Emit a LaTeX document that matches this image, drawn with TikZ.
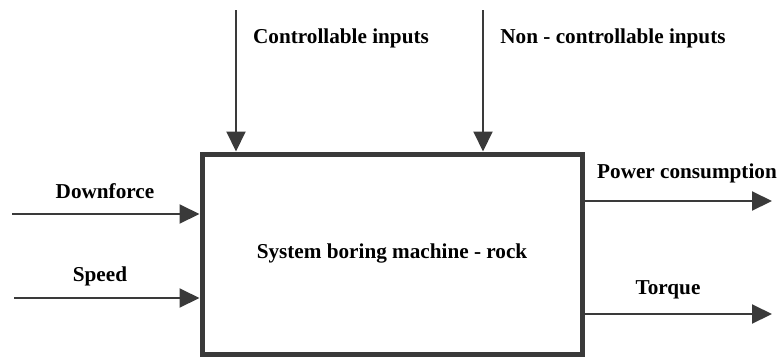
\documentclass[tikz,border=0pt]{standalone}
\usepackage{fontspec}
\setmainfont{Liberation Serif}
\usepackage{tikz}
\usetikzlibrary{arrows.meta, positioning}
\tikzset{>={Triangle[length=10pt,width=9.5pt]}}
\usepackage{xcolor}
\definecolor{mygray}{HTML}{3A3A3A}
\tikzset{flow/.style={->, line width=1pt, mygray},
  lbl/.style={font=\bfseries\fontsize{10.6}{12.7}\selectfont, inner sep=0pt}}

\begin{document}
\begin{tikzpicture}[x=0.5pt, y=-0.5pt]
  \useasboundingbox (0,0) rectangle (780,360);
  \node [draw=mygray, line width=2.5pt, minimum width=190pt, minimum height=100pt, inner sep=0pt, font=\bfseries\fontsize{10.6}{12.7}\selectfont] (sys) at (392,254) {\raisebox{3pt}{System boring machine - rock}};
  \coordinate (ci) at (236,10);
  \coordinate (nci) at (483,10);
  \coordinate (df) at (12,214);
  \coordinate (sp) at (14,298);
  \coordinate (pc) at (772,201);
  \coordinate (tq) at (772,314);
  \draw [flow] (ci) -- (ci |- sys.north);
  \draw [flow] (nci) -- (nci |- sys.north);
  \draw [flow] (df) -- (df -| sys.west);
  \draw [flow] (sp) -- (sp -| sys.west);
  \draw [flow] (sys.east |- pc) -- (pc);
  \draw [flow] (sys.east |- tq) -- (tq);
  \node [lbl] (cilbl) at (341,38) {Controllable inputs};
  \node [lbl] (ncilbl) at (613,38) {Non - controllable inputs};
  \node [lbl] (dflbl) at (105,191) {Downforce};
  \node [lbl] (splbl) at (100,276) {Speed};
  \node [lbl] (pclbl) at (687,173) {Power consumption};
  \node [lbl] (tqlbl) at (668,290) {Torque};
\end{tikzpicture}
\end{document}
